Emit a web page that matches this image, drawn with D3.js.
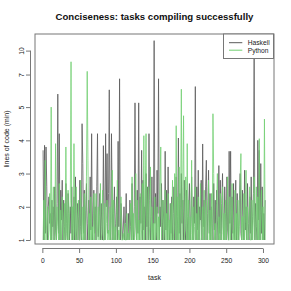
<!DOCTYPE html>
<html>
<head>
<meta charset="utf-8">
<script src="https://cdn.jsdelivr.net/npm/d3@7"></script>
<style>
  html, body { margin: 0; padding: 0; background: #fff; }
  text { font-family: "Liberation Sans", Arial, Helvetica, sans-serif; }
</style>
</head>
<body>
<div id="chart"></div>
<script>
// minimum lines of code per task (task 1..303)
const haskell = [
  3.7, 1.0, 3.85, 1.2, 3.8, 2.6, 1.0, 2.0, 2.3, 1.5,
  1.8, 1.0, 2.2, 1.4, 2.0, 1.0, 2.6, 1.3, 1.0, 2.1,
  5.8, 1.2, 4.2, 1.0, 2.5, 1.6, 2.8, 1.0, 2.2, 1.4,
  1.0, 2.7, 1.5, 1.0, 2.4, 1.8, 1.0, 2.0, 1.2, 2.6,
  1.0, 1.6, 2.3, 1.0, 2.9, 1.3, 1.0, 2.1, 1.7, 1.0,
  2.8, 1.4, 1.0, 4.5, 3.3, 1.2, 2.5, 1.0, 1.9, 2.7,
  1.0, 1.5, 2.2, 1.0, 2.9, 1.3, 4.2, 1.0, 1.8, 2.5,
  1.2, 2.0, 1.0, 2.6, 4.2, 1.1, 1.7, 2.4, 1.0, 2.1,
  1.4, 1.0, 3.84, 1.6, 1.0, 4.2, 2.0, 3.6, 1.2, 2.4,
  6.06, 1.3, 1.0, 4.2, 2.2, 1.0, 1.8, 2.6, 1.0, 1.5,
  2.3, 1.0, 3.97, 1.4, 6.74, 1.0, 2.1, 1.6, 1.0, 1.3,
  2.0, 1.0, 1.5, 2.4, 1.0, 1.2, 1.8, 1.0, 2.2, 1.4,
  1.0, 2.7, 1.3, 1.0, 2.0, 5.26, 1.6, 1.0, 2.5, 1.2,
  5.26, 1.0, 2.3, 1.5, 3.7, 1.0, 2.8, 1.3, 2.0, 1.0,
  3.0, 1.4, 2.6, 1.0, 4.2, 2.2, 1.0, 1.7, 2.9, 1.3,
  1.0, 13, 1.5, 2.4, 1.0, 3.1, 1.8, 6.74, 1.0, 2.0,
  1.4, 2.7, 1.0, 2.2, 1.6, 1.0, 3.67, 1.3, 2.5, 1.0,
  3.2, 1.5, 1.0, 2.1, 1.2, 2.3, 1.0, 1.8, 2.6, 1.0,
  1.4, 2.9, 1.0, 1.7, 4.07, 1.2, 2.4, 1.0, 3.0, 1.5,
  2.2, 1.0, 2.8, 1.3, 1.0, 2.5, 1.7, 1.0, 2.0, 2.7,
  1.0, 1.6, 2.9, 1.2, 1.0, 2.3, 1.5, 6.26, 1.0, 2.6,
  1.3, 3.1, 1.0, 2.0, 1.6, 2.8, 1.0, 3.89, 1.4, 2.2,
  1.0, 2.6, 3.4, 1.0, 1.8, 3.1, 1.2, 2.4, 1.0, 2.0,
  1.5, 1.0, 2.7, 1.3, 2.2, 1.0, 2.5, 1.6, 1.0, 3.24,
  1.2, 2.8, 1.0, 2.1, 3.0, 1.4, 1.0, 2.6, 1.8, 1.0,
  2.9, 1.3, 1.0, 3.67, 1.5, 3.67, 1.0, 2.3, 1.2, 2.7,
  1.0, 1.9, 2.8, 1.0, 2.4, 1.4, 1.0, 2.2, 3.0, 1.2,
  1.0, 2.5, 1.6, 1.0, 3.1, 1.3, 2.0, 1.0, 2.7, 1.5,
  1.0, 2.3, 1.2, 2.9, 1.0, 1.7, 2.4, 11, 1.0, 2.1,
  1.4, 1.0, 4.0, 1.6, 3.7, 1.0, 3.3, 1.2, 2.6, 1.0,
  1.8, 1.0, 2.2
];

const python = [
  1.0, 2.2, 1.0, 3.4, 1.0, 1.6, 2.0, 1.0, 1.3, 2.4,
  1.0, 5.0, 1.0, 1.8, 2.6, 1.0, 1.2, 3.9, 1.0, 2.0,
  1.4, 1.0, 2.7, 1.0, 1.9, 1.0, 2.3, 1.5, 1.0, 2.1,
  1.0, 3.8, 1.2, 1.0, 2.5, 1.0, 1.7, 2.2, 8.6, 1.0,
  2.0, 1.0, 3.9, 1.3, 1.0, 2.6, 1.0, 1.5, 2.2, 1.0,
  1.0, 2.8, 1.2, 1.0, 2.0, 1.0, 2.4, 1.0, 1.6, 2.9,
  7.4, 3.4, 1.0, 1.8, 1.0, 2.3, 1.0, 1.4, 1.0, 2.4,
  1.0, 1.6, 2.4, 1.0, 1.3, 2.0, 1.0, 1.8, 2.7, 1.0,
  1.2, 2.5, 1.0, 1.0, 2.1, 1.0, 1.5, 2.2, 1.0, 1.3,
  1.0, 2.0, 1.0, 1.6, 3.1, 1.0, 2.2, 1.0, 1.4, 1.0,
  1.8, 2.8, 1.0, 1.3, 1.0, 1.7, 2.3, 1.0, 1.0, 1.2,
  1.0, 1.5, 1.0, 1.0, 1.8, 1.0, 1.2, 1.0, 1.6, 2.1,
  1.0, 2.9, 1.0, 1.8, 1.0, 1.4, 3.0, 1.0, 2.2, 1.0,
  1.6, 1.0, 2.4, 1.0, 1.3, 2.7, 1.0, 4.14, 1.0, 2.5,
  4.2, 1.0, 1.8, 2.6, 1.0, 1.4, 3.2, 1.0, 2.0, 1.0,
  1.5, 1.0, 2.3, 1.0, 1.2, 2.0, 1.0, 1.7, 1.0, 2.6,
  3.8, 1.0, 1.5, 2.2, 1.0, 1.3, 2.5, 1.0, 1.8, 1.0,
  2.4, 1.0, 1.6, 1.0, 2.1, 1.0, 2.8, 1.0, 1.4, 3.0,
  1.0, 4.44, 1.0, 2.3, 1.0, 3.2, 1.0, 2.0, 6.1, 1.0,
  2.6, 4.74, 1.0, 1.5, 2.9, 1.0, 3.9, 1.0, 2.2, 1.0,
  1.7, 1.0, 3.4, 1.0, 2.0, 1.0, 1.4, 2.6, 1.0, 1.8,
  1.0, 2.3, 1.0, 1.5, 2.7, 1.0, 1.2, 2.0, 1.0, 2.5,
  1.0, 1.6, 2.2, 1.0, 1.3, 2.8, 1.0, 1.9, 1.0, 2.4,
  1.0, 4.8, 3.0, 1.0, 1.5, 1.0, 2.1, 3.0, 1.0, 1.7,
  1.0, 2.4, 1.0, 1.2, 2.6, 1.0, 1.8, 1.0, 2.2, 1.0,
  1.5, 2.9, 1.0, 1.0, 2.3, 1.0, 1.6, 2.7, 1.0, 1.3,
  1.0, 2.5, 1.0, 1.8, 1.0, 2.2, 1.0, 1.4, 2.8, 3.6,
  1.0, 1.7, 1.0, 2.4, 1.0, 1.5, 3.1, 1.0, 2.0, 1.0,
  1.3, 2.6, 1.0, 1.0, 2.2, 1.0, 1.6, 2.9, 1.0, 1.4,
  2.6, 1.0, 2.3, 1.0, 4.05, 1.0, 1.8, 2.5, 1.0, 2.0,
  1.0, 4.64, 1.0
];

const seriesNames = ["Haskell", "Python"];
const seriesColors = ["#5a5a5a", "#72cf72"];
const xTicks = [0, 50, 100, 150, 200, 250, 300];
const yTicks = [1, 2, 3, 4, 5, 7, 10];
// the y axis is stretched unevenly: value knots and where they sit (in axis units)
const yKnots = [1, 2, 3, 4, 5, 7, 10, 14];
const yKnotUnits = [0, 1, 2, 3, 4, 4.98, 5.7, 6.1];

const width = 291;
const height = 291;
const box = { left: 35, right: 274, top: 34, bottom: 244 };
const FONT = 6.7;

const svg = d3
  .select("#chart")
  .append("svg")
  .attr("width", width)
  .attr("height", height)
  .attr("viewBox", [0, 0, width, height]);

const x = d3.scaleLinear().domain([-10, 315]).range([box.left, box.right]);
const yUnit = d3.scaleLinear().domain([-0.12, 6.2]).range([box.bottom, box.top]);
const y = d3.scaleLinear().domain(yKnots).range(yKnotUnits.map(yUnit));

const line = d3
  .line()
  .x((d, i) => x(i + 1))
  .y((d) => y(d));

const gPlot = svg.append("g");
[haskell, python].forEach((vals, k) => {
  gPlot
    .append("path")
    .datum(vals)
    .attr("d", line)
    .attr("fill", "none")
    .attr("stroke", seriesColors[k])
    .attr("stroke-width", 0.8);
});

// box
svg
  .append("rect")
  .attr("x", box.left)
  .attr("y", box.top)
  .attr("width", box.right - box.left)
  .attr("height", box.bottom - box.top)
  .attr("fill", "none")
  .attr("stroke", "#777")
  .attr("stroke-width", 1);

// x axis, offset below the box like R
const xAxisY = 248.5;
const gx = svg
  .append("g")
  .attr("transform", `translate(0,${xAxisY})`)
  .call(d3.axisBottom(x).tickValues(xTicks).tickSize(4.5).tickSizeOuter(0).tickPadding(5.6));
gx.select(".domain")
  .attr("d", `M${x(xTicks[0])},0H${x(xTicks[xTicks.length - 1])}`)
  .attr("stroke", "#777");
gx.selectAll(".tick line").attr("stroke", "#777");
gx.selectAll(".tick text")
  .attr("font-size", FONT)
  .attr("font-family", null)
  .attr("fill", "#222");

// y axis
const yAxisX = 30.5;
const gy = svg
  .append("g")
  .attr("transform", `translate(${yAxisX},0)`)
  .call(d3.axisLeft(y).tickValues(yTicks).tickSize(4.5).tickSizeOuter(0));
gy.select(".domain")
  .attr("d", `M0,${y(yTicks[0])}V${y(yTicks[yTicks.length - 1])}`)
  .attr("stroke", "#777");
gy.selectAll(".tick line").attr("stroke", "#777");
gy.selectAll(".tick text")
  .attr("font-size", FONT)
  .attr("font-family", null)
  .attr("fill", "#222")
  .attr("text-anchor", "middle")
  .attr("x", 0)
  .attr("dy", null)
  .attr("y", -6.5)
  .attr("transform", "rotate(-90)");

// titles
svg
  .append("text")
  .attr("x", (box.left + box.right) / 2)
  .attr("y", 20)
  .attr("text-anchor", "middle")
  .attr("font-size", 9.6)
  .attr("font-weight", "bold")
  .attr("fill", "#111")
  .text("Conciseness: tasks compiling successfully");

svg
  .append("text")
  .attr("x", (box.left + box.right) / 2)
  .attr("y", 280)
  .attr("text-anchor", "middle")
  .attr("font-size", 7)
  .attr("fill", "#222")
  .text("task");

svg
  .append("text")
  .attr("transform", `translate(9.2,${(box.top + box.bottom) / 2}) rotate(-90)`)
  .attr("text-anchor", "middle")
  .attr("font-size", 7)
  .attr("fill", "#222")
  .text("lines of code (min)");

// legend
const leg = svg.append("g").attr("transform", "translate(223.5,34)");
leg
  .append("rect")
  .attr("width", 50)
  .attr("height", 24.5)
  .attr("fill", "#fff")
  .attr("stroke", "#777");
seriesNames.forEach((name, k) => {
  const ly = 8.7 + k * 7.5;
  leg
    .append("line")
    .attr("x1", 5.5)
    .attr("x2", 18.8)
    .attr("y1", ly)
    .attr("y2", ly)
    .attr("stroke", seriesColors[k])
    .attr("stroke-width", 1);
  leg
    .append("text")
    .attr("x", 24.2)
    .attr("y", ly + 2.4)
    .attr("font-size", 6.7)
    .attr("fill", "#222")
    .text(name);
});
</script>
</body>
</html>
